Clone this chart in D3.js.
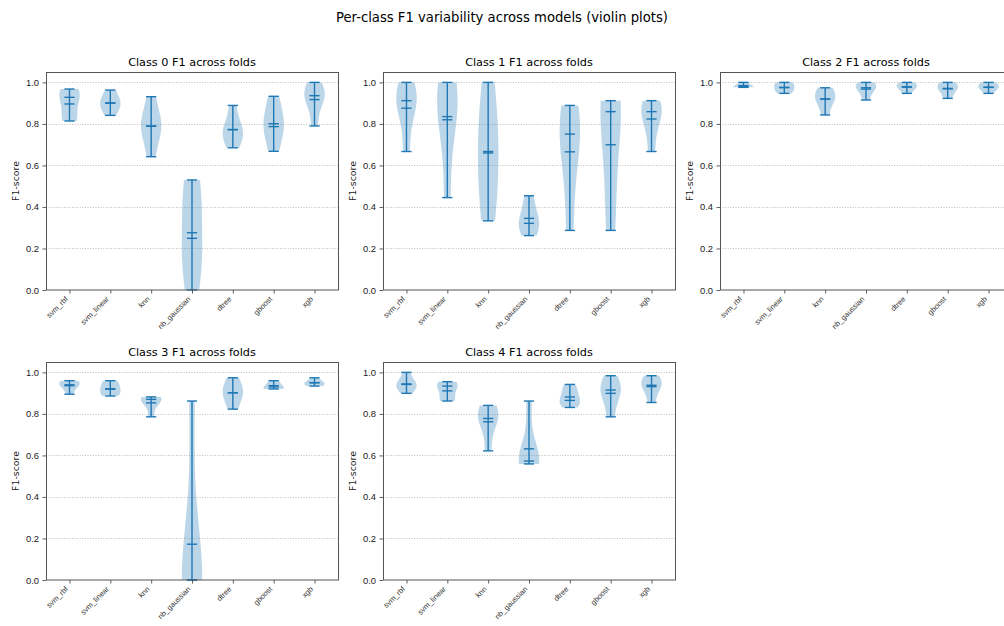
<!DOCTYPE html>
<html>
<head>
<meta charset="utf-8">
<script src="https://cdn.jsdelivr.net/npm/d3@7"></script>
<style>
  body { margin: 0; background: #fff; }
  svg { display: block; font-family: "DejaVu Sans", sans-serif; }
</style>
</head>
<body>
<div id="viz"></div>
<script>
// models on the x axis of every panel
var models = ['svm_rbf', 'svm_linear', 'knn', 'nb_gaussian', 'dtree', 'gboost', 'xgb'];
var yTicks = [0, 0.2, 0.4, 0.6, 0.8, 1.0];
var panelTitles = ['Class 0 F1 across folds', 'Class 1 F1 across folds', 'Class 2 F1 across folds',
                   'Class 3 F1 across folds', 'Class 4 F1 across folds'];

// per fold F1 (5 folds) for each model
var f1Class0 = [
  [0.814, 0.83, 0.928, 0.94, 0.968],
  [0.841, 0.88, 0.90, 0.92, 0.963],
  [0.642, 0.77, 0.79, 0.81, 0.931],
  [0.0, 0.15, 0.249, 0.45, 0.530],
  [0.685, 0.74, 0.772, 0.78, 0.889],
  [0.668, 0.77, 0.787, 0.847, 0.933],
  [0.790, 0.91, 0.936, 0.95, 1.0]
];
var f1Class1 = [
  [0.667, 0.86, 0.912, 0.94, 1.0],
  [0.445, 0.82, 0.835, 1.0, 1.0],
  [0.333, 0.50, 0.667, 0.80, 1.0],
  [0.262, 0.31, 0.321, 0.378, 0.454],
  [0.287, 0.60, 0.751, 0.80, 0.889],
  [0.287, 0.55, 0.859, 0.89, 0.912],
  [0.667, 0.80, 0.859, 0.88, 0.912]
];
var f1Class2 = [
  [0.976, 0.976, 0.98, 0.99, 1.0],
  [0.947, 0.96, 0.976, 0.99, 1.0],
  [0.843, 0.91, 0.92, 0.95, 0.974],
  [0.915, 0.96, 0.974, 0.99, 1.0],
  [0.947, 0.97, 0.979, 0.99, 1.0],
  [0.923, 0.96, 0.971, 0.99, 1.0],
  [0.947, 0.97, 0.976, 0.99, 1.0]
];
var f1Class3 = [
  [0.895, 0.93, 0.94, 0.955, 0.96],
  [0.886, 0.90, 0.919, 0.94, 0.96],
  [0.786, 0.853, 0.87, 0.875, 0.882],
  [0.0, 0.0, 0.0, 0.0, 0.862],
  [0.823, 0.88, 0.902, 0.93, 0.974],
  [0.92, 0.925, 0.93, 0.945, 0.96],
  [0.934, 0.94, 0.95, 0.955, 0.974]
];
var f1Class4 = [
  [0.899, 0.93, 0.942, 0.95, 1.0],
  [0.862, 0.87, 0.934, 0.934, 0.955],
  [0.622, 0.76, 0.778, 0.81, 0.841],
  [0.559, 0.565, 0.573, 0.60, 0.862],
  [0.831, 0.86, 0.865, 0.91, 0.942],
  [0.786, 0.88, 0.915, 0.93, 0.984],
  [0.855, 0.92, 0.938, 0.96, 0.984]
];
var classData = [f1Class0, f1Class1, f1Class2, f1Class3, f1Class4];

var W = 1004, H = 626;
var pw = 292, ph = 218;
var lefts = [46, 383, 720];
var tops = [72, 362];
var blue = '#1f77b4';

var svg = d3.select('#viz').append('svg')
  .attr('width', W)
  .attr('height', H);

svg.append('text')
  .attr('x', W / 2)
  .attr('y', 22)
  .attr('text-anchor', 'middle')
  .style('font-size', '13.2px')
  .text('Per-class F1 variability across models (violin plots)');

// gaussian kde like scipy (scott bandwidth), cut at min / max
function violinShape(vals) {
  var n = vals.length,
      lo = d3.min(vals),
      hi = d3.max(vals),
      bw = d3.deviation(vals) * Math.pow(n, -0.2);
  var pts = d3.range(100).map(function(i) { return lo + (hi - lo) * i / 99; });
  var dens = pts.map(function(y) {
    return d3.sum(vals, function(v) { return Math.exp(-0.5 * Math.pow((y - v) / bw, 2)); });
  });
  var mx = d3.max(dens);
  return pts.map(function(y, i) { return { v: y, w: 0.25 * dens[i] / mx }; });
}

classData.forEach(function(folds, ci) {
  var ox = lefts[ci % 3],
      oy = tops[Math.floor(ci / 3)];

  var x = d3.scaleLinear().domain([0.425, 7.575]).range([0, pw]);
  var y = d3.scaleLinear().domain([0, 1.05]).range([ph, 0]);

  var g = svg.append('g')
    .attr('transform', 'translate(' + ox + ',' + oy + ')');

  // grid
  g.selectAll('line.grid').data(yTicks.slice(1))
    .enter().append('line')
      .attr('class', 'grid')
      .attr('x1', 0).attr('x2', pw)
      .attr('y1', function(d) { return Math.round(y(d)) + 0.5; })
      .attr('y2', function(d) { return Math.round(y(d)) + 0.5; })
      .attr('stroke', '#b0b0b0')
      .attr('stroke-width', 0.8)
      .attr('stroke-dasharray', '1,1.6');

  var area = d3.area()
    .y(function(d) { return y(d.v); })
    .x0(function(d) { return x(d.pos - d.w); })
    .x1(function(d) { return x(d.pos + d.w); });

  folds.forEach(function(vals, mi) {
    var pos = mi + 1;
    var shape = violinShape(vals).map(function(d) { return { v: d.v, w: d.w, pos: pos }; });
    g.append('path')
      .attr('d', area(shape))
      .attr('fill', blue)
      .attr('fill-opacity', 0.3);

    var lo = d3.min(vals), hi = d3.max(vals);
    var lines = [lo, hi, d3.mean(vals), d3.median(vals)];
    g.append('line')
      .attr('x1', x(pos)).attr('x2', x(pos))
      .attr('y1', y(lo)).attr('y2', y(hi))
      .attr('stroke', blue).attr('stroke-width', 1.4);
    g.selectAll(null).data(lines)
      .enter().append('line')
        .attr('x1', x(pos - 0.125)).attr('x2', x(pos + 0.125))
        .attr('y1', function(d) { return y(d); })
        .attr('y2', function(d) { return y(d); })
        .attr('stroke', blue).attr('stroke-width', 1.4);
  });

  // axes
  var yAxis = g.append('g')
    .call(d3.axisLeft(y).tickValues(yTicks).tickFormat(d3.format('.1f'))
      .tickSize(3.5).tickPadding(3.5).tickSizeOuter(0));
  yAxis.select('.domain').remove();
  yAxis.selectAll('text').style('font-size', '9.4px').attr('fill', '#222');
  yAxis.selectAll('line').attr('stroke', '#333').attr('stroke-width', 0.8);

  var xAxis = g.append('g')
    .attr('transform', 'translate(0,' + ph + ')')
    .call(d3.axisBottom(x).tickValues(d3.range(1, 8))
      .tickFormat(function(d) { return models[d - 1]; })
      .tickSize(3.5).tickSizeOuter(0));
  xAxis.select('.domain').remove();
  xAxis.selectAll('line').attr('stroke', '#333').attr('stroke-width', 0.8);
  xAxis.selectAll('text')
    .attr('y', 0).attr('dy', null)
    .attr('text-anchor', 'end')
    .attr('transform', 'translate(-1.5,9.5) rotate(-45)')
    .style('font-size', '7.5px')
    .attr('fill', '#333');

  // frame
  g.append('rect')
    .attr('x', 0.5).attr('y', 0.5)
    .attr('width', pw).attr('height', ph - 0.5)
    .attr('fill', 'none')
    .attr('stroke', '#555')
    .attr('stroke-width', 1);

  g.append('text')
    .attr('x', pw / 2)
    .attr('y', -6)
    .attr('text-anchor', 'middle')
    .style('font-size', '11.25px')
    .text(panelTitles[ci]);

  g.append('text')
    .attr('transform', 'translate(-27,' + (ph / 2) + ') rotate(-90)')
    .attr('text-anchor', 'middle')
    .style('font-size', '9.4px')
    .attr('fill', '#222')
    .text('F1-score');
});
</script>
</body>
</html>
